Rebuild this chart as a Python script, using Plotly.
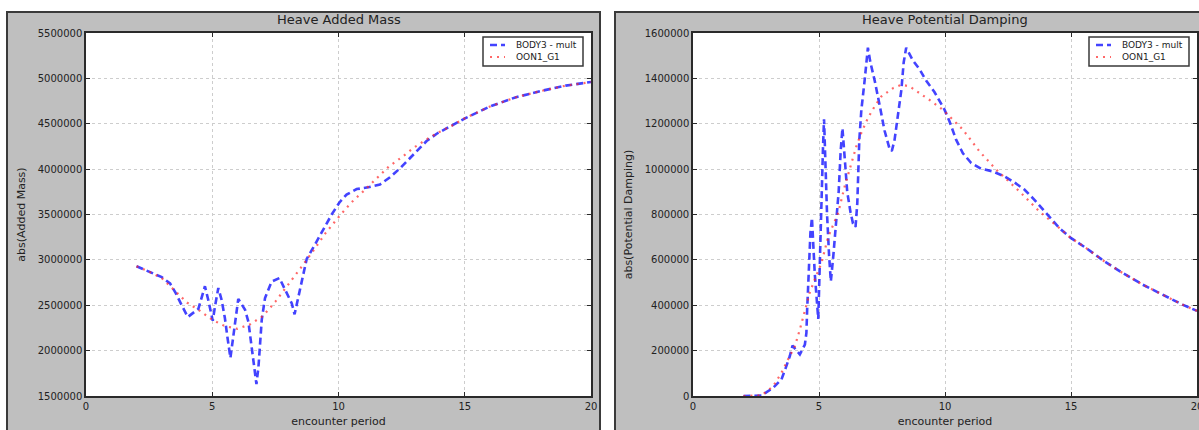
import plotly.graph_objects as go

# ---------------- data ----------------
# Heave Added Mass (left)
am_body_period = [2.0, 2.5, 3.0, 3.33, 3.56, 3.79, 4.03, 4.45, 4.58, 4.71, 4.84, 4.94, 5.02, 5.11,
                  5.24, 5.37, 5.50, 5.60, 5.72, 5.83, 5.94, 6.03, 6.30, 6.43, 6.56, 6.65, 6.75,
                  6.83, 6.89, 6.96, 7.09, 7.35, 7.66, 7.88, 8.15, 8.26, 8.37, 8.54, 8.74, 9.07,
                  9.33, 9.73, 10.03, 10.32, 10.72, 11.18, 11.64, 12.04, 12.44, 13.03, 13.49,
                  13.89, 14.42, 15.01, 16.0, 17.0, 18.0, 19.0, 20.0]
am_body_value = [2930000, 2870000, 2810000, 2740000, 2630000, 2500000, 2370000, 2460000, 2580000,
                 2710000, 2560000, 2430000, 2330000, 2490000, 2690000, 2560000, 2360000, 2150000,
                 1920000, 2150000, 2360000, 2570000, 2450000, 2320000, 2040000, 1820000, 1630000,
                 1820000, 2040000, 2340000, 2580000, 2760000, 2800000, 2670000, 2520000, 2400000,
                 2540000, 2780000, 3010000, 3170000, 3300000, 3500000, 3630000, 3720000, 3780000,
                 3800000, 3830000, 3910000, 4010000, 4180000, 4310000, 4390000, 4470000, 4560000,
                 4690000, 4790000, 4860000, 4920000, 4960000]
am_oon_period = [2.0, 2.5, 3.0, 3.5, 4.0, 4.5, 5.0, 5.5, 6.0, 6.5, 7.0, 7.5, 8.0, 8.5, 9.0, 9.5,
                 10.0, 10.5, 11.0, 11.5, 12.0, 12.5, 13.0, 13.5, 14.0, 14.5, 15.0, 16.0, 17.0,
                 18.0, 19.0, 20.0]
am_oon_value = [2930000, 2870000, 2800000, 2670000, 2530000, 2440000, 2340000, 2270000, 2240000,
                2290000, 2380000, 2540000, 2720000, 2910000, 3100000, 3300000, 3470000, 3630000,
                3760000, 3900000, 4030000, 4130000, 4240000, 4330000, 4410000, 4480000, 4560000,
                4690000, 4790000, 4860000, 4920000, 4960000]

# Heave Potential Damping (right)
pd_body_period = [2.0, 2.3, 2.72, 3.18, 3.51, 3.68, 3.84, 3.95, 4.08, 4.24, 4.44, 4.50, 4.53, 4.57,
                  4.61, 4.66, 4.72, 4.76, 4.83, 4.90, 4.97, 5.00, 5.03, 5.07, 5.10, 5.16, 5.20,
                  5.25, 5.32, 5.40, 5.47, 5.57, 5.67, 5.78, 5.86, 5.93, 6.02, 6.12, 6.25, 6.35,
                  6.45, 6.52, 6.60, 6.68, 6.81, 6.90, 6.94, 7.04, 7.21, 7.41, 7.60, 7.80, 7.89,
                  8.0, 8.13, 8.27, 8.36, 8.46, 8.72, 8.99, 9.25, 9.58, 9.98, 10.18, 10.44, 10.71,
                  11.04, 11.43, 11.89, 12.36, 12.75, 13.15, 13.54, 14.07, 14.53, 14.99, 15.59,
                  16.32, 17.04, 17.84, 18.63, 19.42, 20.0]
pd_body_value = [0, 0, 2000, 36000, 73000, 124000, 175000, 222000, 205000, 183000, 227000, 278000,
                 381000, 484000, 601000, 719000, 785000, 675000, 543000, 440000, 340000, 455000,
                 601000, 719000, 866000, 1100000, 1220000, 1000000, 800000, 620000, 505000,
                 620000, 760000, 900000, 1080000, 1180000, 1050000, 900000, 810000, 760000,
                 745000, 850000, 1130000, 1260000, 1390000, 1480000, 1535000, 1470000, 1390000,
                 1280000, 1170000, 1090000, 1080000, 1130000, 1230000, 1350000, 1470000, 1535000,
                 1480000, 1440000, 1390000, 1340000, 1262000, 1210000, 1130000, 1070000, 1027000,
                 1002000, 990000, 968000, 942000, 910000, 866000, 800000, 741000, 697000, 653000,
                 594000, 543000, 491000, 447000, 403000, 375000]
pd_oon_period = [2.0, 2.5, 2.72, 3.18, 3.51, 3.77, 4.04, 4.24, 4.44, 4.63, 4.83, 5.10, 5.36, 5.56,
                 5.76, 6.02, 6.22, 6.48, 6.68, 6.94, 7.21, 7.47, 7.94, 8.27, 8.59, 8.99, 9.45,
                 9.91, 10.71, 11.37, 12.03, 12.95, 13.74, 14.53, 14.99, 15.59, 16.32, 17.04, 17.84,
                 18.63, 19.42, 20.0]
pd_oon_value = [0, 0, 3000, 43000, 102000, 161000, 219000, 293000, 381000, 455000, 513000, 587000,
                700000, 755000, 807000, 924000, 998000, 1100000, 1160000, 1225000, 1277000,
                1320000, 1357000, 1372000, 1365000, 1336000, 1300000, 1262000, 1174000, 1078000,
                998000, 902000, 814000, 741000, 697000, 653000, 594000, 543000, 491000, 447000,
                403000, 375000]

series_names = ["BODY3 - mult", "OON1_G1"]
panel_titles = ["Heave Added Mass", "Heave Potential Damping"]
y_titles = ["abs(Added Mass)", "abs(Potential Damping)"]
x_title = "encounter period"

# ---------------- figure ----------------
W, H = 1199, 430
FONT = "DejaVu Sans"
BLUE = "rgba(20,20,255,0.8)"
RED = "rgba(255,40,40,0.7)"
BLUE_DASH = "7px,4px"
RED_DASH = "2px,5px"
FRAME = "#2a2a2a"

def px(v):
    return v / W

def py(v):
    return 1 - v / H

fig = go.Figure()

fig.add_trace(go.Scatter(x=am_body_period, y=am_body_value, mode="lines", name=series_names[0],
                         line=dict(color=BLUE, width=2.6, dash=BLUE_DASH),
                         xaxis="x", yaxis="y", showlegend=False))
fig.add_trace(go.Scatter(x=am_oon_period, y=am_oon_value, mode="lines", name=series_names[1],
                         line=dict(color=RED, width=2.2, dash=RED_DASH),
                         xaxis="x", yaxis="y", showlegend=False))
fig.add_trace(go.Scatter(x=pd_body_period, y=pd_body_value, mode="lines", name=series_names[0],
                         line=dict(color=BLUE, width=2.6, dash=BLUE_DASH),
                         xaxis="x2", yaxis="y2", showlegend=False))
fig.add_trace(go.Scatter(x=pd_oon_period, y=pd_oon_value, mode="lines", name=series_names[1],
                         line=dict(color=RED, width=2.2, dash=RED_DASH),
                         xaxis="x2", yaxis="y2", showlegend=False))

PLOT_L = [(86, 591), (693, 1197)]
PLOT_TOP, PLOT_BOT = 33, 396

ydom = [py(PLOT_BOT), py(PLOT_TOP)]
axis_common = dict(showline=True, linecolor=FRAME, linewidth=1.5, mirror="ticks",
                   ticks="inside", ticklen=4, tickcolor=FRAME,
                   showgrid=True, gridcolor="#cdcdcd", griddash="dot", gridwidth=1,
                   zeroline=False, automargin=False, ticklabeloverflow="allow",
                   tickfont=dict(family=FONT, size=10, color="#222"))

fig.update_layout(
    width=W, height=H,
    margin=dict(l=0, r=0, t=0, b=0),
    paper_bgcolor="white",
    plot_bgcolor="white",
    font=dict(family=FONT, color="#222"),
    showlegend=False,
    xaxis=dict(domain=[px(PLOT_L[0][0]), px(PLOT_L[0][1])], anchor="y", range=[0, 20], dtick=5,
               title=dict(text=x_title, font=dict(size=11), standoff=7), **axis_common),
    yaxis=dict(domain=ydom, anchor="x", range=[1500000, 5500000], dtick=500000, tickformat="d",
               title=dict(text=y_titles[0], font=dict(size=11), standoff=10), **axis_common),
    xaxis2=dict(domain=[px(PLOT_L[1][0]), px(PLOT_L[1][1])], anchor="y2", range=[0, 20], dtick=5,
                title=dict(text=x_title, font=dict(size=11), standoff=7), **axis_common),
    yaxis2=dict(domain=ydom, anchor="x2", range=[0, 1600000], dtick=200000, tickformat="d",
                title=dict(text=y_titles[1], font=dict(size=11), standoff=10), **axis_common),
)

# panel backgrounds (grey figure areas with dark frame), then white plot areas
for x0, x1 in [(7, 600), (615, 1215)]:
    fig.add_shape(type="rect", xref="paper", yref="paper",
                  x0=px(x0), x1=px(x1), y0=py(445), y1=py(12),
                  fillcolor="#bfbfbf", line=dict(color="#3a3a3a", width=2), layer="below")
for x0, x1 in PLOT_L:
    fig.add_shape(type="rect", xref="paper", yref="paper",
                  x0=px(x0), x1=px(x1), y0=py(PLOT_BOT), y1=py(PLOT_TOP),
                  fillcolor="white", line=dict(width=0), layer="below")

# panel titles
for title, (l, r) in zip(panel_titles, PLOT_L):
    fig.add_annotation(text=title, xref="paper", yref="paper", x=px((l + r) / 2), y=py(20),
                       showarrow=False, xanchor="center", yanchor="middle",
                       font=dict(family=FONT, size=13, color="#222"))

# legends (box inside the upper right corner of each plot)
for (l, r) in PLOT_L:
    bx1 = r - 8
    bx0 = bx1 - 100
    fig.add_shape(type="rect", xref="paper", yref="paper",
                  x0=px(bx0), x1=px(bx1), y0=py(66), y1=py(37),
                  fillcolor="white", line=dict(color="#3a3a3a", width=1.5), layer="above")
    for name, color, dash, width, yy in [(series_names[0], BLUE, BLUE_DASH, 2.6, 45),
                                          (series_names[1], RED, RED_DASH, 2.2, 57)]:
        fig.add_shape(type="line", xref="paper", yref="paper",
                      x0=px(bx0 + 7), x1=px(bx0 + 22), y0=py(yy), y1=py(yy),
                      line=dict(color=color, width=width, dash=dash), layer="above")
        fig.add_annotation(text=name, xref="paper", yref="paper", x=px(bx0 + 31), y=py(yy),
                           showarrow=False, xanchor="left", yanchor="middle",
                           font=dict(family=FONT, size=9, color="#222"))

fig.write_html("out.html")
